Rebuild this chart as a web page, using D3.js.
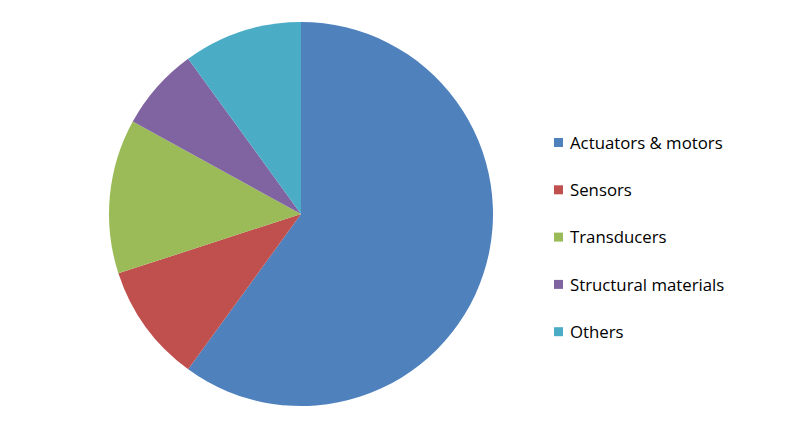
<!DOCTYPE html>
<html>
<head>
<meta charset="utf-8">
<script src="https://cdn.jsdelivr.net/npm/d3@7"></script>
<style>
  body { margin: 0; background: #fff; }
  svg text { font-family: "Open Sans", "Liberation Sans", sans-serif; }
</style>
</head>
<body>
<div id="chart"></div>
<script>
// slice data (percent)
const categories = ["Actuators & motors", "Sensors", "Transducers", "Structural materials", "Others"];
const shares = [60, 10, 13, 7, 10];
const colors = ["#4F81BD", "#C0504D", "#9BBB59", "#8064A2", "#4BACC6"];

const width = 800, height = 427;

const svg = d3.select("#chart").append("svg")
    .attr("width", width)
    .attr("height", height);

const data = categories.map((c, i) => ({ name: c, value: shares[i], color: colors[i] }));

const pie = d3.pie()
    .value(d => d.value)
    .sort(null); // keep the order, clockwise from 12 o'clock

const arc = d3.arc()
    .innerRadius(0)
    .outerRadius(192);

const g = svg.append("g")
    .attr("transform", "translate(301,214)");

g.selectAll("path")
    .data(pie(data))
    .join("path")
    .attr("d", arc)
    .attr("fill", d => d.data.color);

// legend on the right
const legend = svg.append("g")
    .attr("transform", "translate(554,143)");

const item = legend.selectAll("g")
    .data(data)
    .join("g")
    .attr("transform", (d, i) => `translate(0,${i * 47.3})`);

item.append("rect")
    .attr("x", 0)
    .attr("y", -5)
    .attr("width", 9)
    .attr("height", 9)
    .attr("fill", d => d.color);

item.append("text")
    .attr("x", 16)
    .attr("y", 0)
    .attr("dy", "0.35em")
    .attr("font-size", 16.8)
    .attr("fill", "#000")
    .text(d => d.name);
</script>
</body>
</html>
